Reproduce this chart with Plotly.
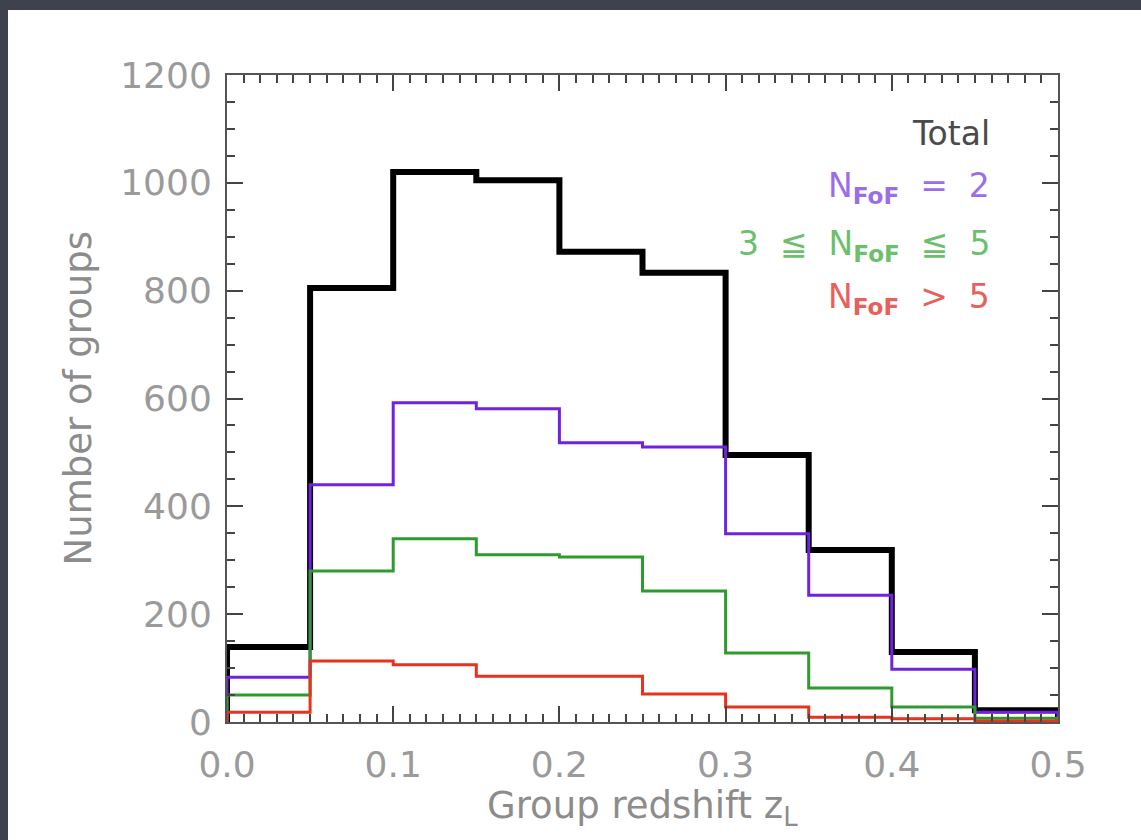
import plotly.graph_objects as go

# ---- data ----
bin_edges = [0.0, 0.05, 0.10, 0.15, 0.20, 0.25, 0.30, 0.35, 0.40, 0.45, 0.50]
total = [139, 805, 1020, 1005, 872, 833, 495, 319, 130, 22]
nfof_2 = [83, 440, 592, 581, 518, 510, 349, 235, 98, 18]
nfof_3_5 = [50, 280, 340, 310, 306, 243, 128, 63, 28, 7]
nfof_gt5 = [18, 113, 106, 85, 85, 52, 28, 9, 6, 2]

series_names = ["Total", "N<sub>FoF</sub> = 2", "3 ≦ N<sub>FoF</sub> ≦ 5", "N<sub>FoF</sub> > 5"]
series_values = [total, nfof_2, nfof_3_5, nfof_gt5]
line_colors = ["#000000", "#7022e0", "#2f9a2f", "#e8321e"]
line_widths = [6, 3, 3, 3]
label_texts = [
    "Total",
    "N<sub><b>FoF</b></sub>  =  2",
    "3  ≦  N<sub><b>FoF</b></sub>  ≦  5",
    "N<sub><b>FoF</b></sub>  >  5",
]
label_colors = ["#4a4a4a", "#9a6ee8", "#6cbf6c", "#e8605a"]

y_ticks = [0, 200, 400, 600, 800, 1000, 1200]
x_ticks = [0.0, 0.1, 0.2, 0.3, 0.4, 0.5]
x_tick_labels = ["0.0", "0.1", "0.2", "0.3", "0.4", "0.5"]
x_title = "Group redshift z<sub>L</sub>"
y_title = "Number of groups"

FONT = "DejaVu Sans ExtraLight, DejaVu Sans, Liberation Sans"
W, H = 1141, 840
L, R, T, B = 227, 83, 75, 118
pw, ph = W - L - R, H - T - B

fig = go.Figure()
for name, vals, col, lw in zip(series_names, series_values, line_colors, line_widths):
    xs = [bin_edges[0]] + list(bin_edges) + [bin_edges[-1]]
    ys = [0] + list(vals) + [vals[-1], 0]
    fig.add_trace(go.Scatter(x=xs, y=ys, mode="lines", line=dict(shape="hv", color=col, width=lw),
                             name=name, showlegend=False, hoverinfo="skip"))

def px_x(p):
    return (p - L) / pw

def px_y(p):
    return (H - B - p) / ph

# white card over dark background
fig.add_shape(type="rect", xref="paper", yref="paper", layer="below",
              x0=px_x(8), x1=px_x(W + 20), y0=px_y(H + 20), y1=px_y(10),
              fillcolor="white", line=dict(width=0))

label_y = [133, 188, 245, 298]
for txt, col, yy in zip(label_texts, label_colors, label_y):
    fig.add_annotation(text=txt, xref="paper", yref="paper", x=px_x(992), y=px_y(yy),
                       xanchor="right", yanchor="middle", showarrow=False,
                       font=dict(family=FONT, size=33, color=col))

# axis titles
fig.add_annotation(text=x_title, xref="paper", yref="paper", x=0.5, y=px_y(808),
                   xanchor="center", yanchor="middle", showarrow=False,
                   font=dict(family=FONT, size=37, color="#8c8c8c"))
fig.add_annotation(text=y_title, xref="paper", yref="paper", x=px_x(78), y=0.5,
                   xanchor="center", yanchor="middle", showarrow=False, textangle=-90,
                   font=dict(family=FONT, size=37, color="#8c8c8c"))

axis_common = dict(
    showgrid=False, zeroline=False, showline=True, linecolor="#555555", linewidth=2,
    mirror="ticks", ticks="inside", ticklen=16, tickwidth=2, tickcolor="#444444",
    tickfont=dict(family=FONT, size=36, color="#9a9a9a"),
)

fig.update_xaxes(range=[0, 0.5], tickvals=x_ticks, ticktext=x_tick_labels,
                 ticklabelstandoff=10,
                 minor=dict(dtick=0.01, ticks="inside", ticklen=8, tickwidth=1.5, tickcolor="#444444"),
                 **axis_common)
fig.update_yaxes(range=[0, 1200], tickvals=y_ticks,
                 ticklabelstandoff=6,
                 minor=dict(dtick=50, ticks="inside", ticklen=8, tickwidth=1.5, tickcolor="#444444"),
                 **axis_common)

fig.update_layout(
    width=W, height=H, autosize=False,
    margin=dict(l=L, r=R, t=T, b=B, pad=0),
    paper_bgcolor="#3d424d", plot_bgcolor="white",
    showlegend=False,
)

fig.write_html("out.html", config={"displayModeBar": False},
               post_script="document.body.style.margin='0';document.body.style.background='#3d424d';")
